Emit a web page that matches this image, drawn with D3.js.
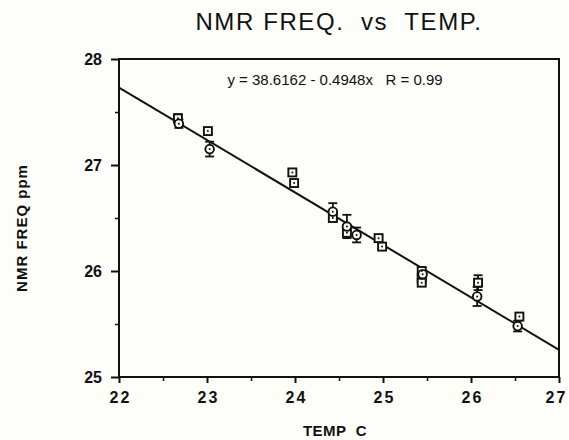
<!DOCTYPE html>
<html>
<head>
<meta charset="utf-8">
<script src="https://cdn.jsdelivr.net/npm/d3@7"></script>
<style>
  body { margin: 0; background: #fdfdfa; }
  svg { display: block; }
  .tick text { font-family: "Liberation Sans", Arial, sans-serif; fill: #111; }
</style>
</head>
<body>
<div id="chart"></div>
<script>
// Data
const xTicks = [22, 23, 24, 25, 26, 27]
const yTicks = [25, 26, 27, 28]

// squares: [temp, freq, error]
const squarePoints = [
  [22.67, 27.44, 0.04], [23.01, 27.32, 0.02], [23.97, 26.93, 0.03],
  [23.99, 26.83, 0.02], [24.43, 26.50, 0.03], [24.59, 26.36, 0.02],
  [24.95, 26.31, 0.02], [24.99, 26.23, 0.02], [25.44, 26.00, 0.03],
  [25.44, 25.93, 0.02], [25.44, 25.89, 0.02], [26.08, 25.89, 0.07],
  [26.55, 25.57, 0.03]
]
// circles: [temp, freq, error]
const circlePoints = [
  [22.68, 27.39, 0.04], [23.03, 27.15, 0.07], [24.43, 26.56, 0.08],
  [24.59, 26.42, 0.11], [24.70, 26.34, 0.07], [25.45, 25.97, 0.03],
  [26.07, 25.76, 0.09], [26.53, 25.48, 0.05]
]

const fit = { a: 38.6162, b: -0.4948 }

const width = 569
const height = 440
const margin = { top: 59, right: 10, bottom: 63, left: 119 }
const ink = "#111"
const paper = "#fdfdfa"

const svg = d3.select("#chart").append("svg")
  .attr("width", width)
  .attr("height", height)

const xScale = d3.scaleLinear().domain([22, 27]).range([margin.left, 559])
const yScale = d3.scaleLinear().domain([25, 28]).range([height - margin.bottom, margin.top])

const x0 = xScale(22), x1 = xScale(27)
const yb = yScale(25), yt = yScale(28)

// title
svg.append("text")
  .attr("x", 339).attr("y", 30)
  .attr("text-anchor", "middle")
  .style("font-family", "Liberation Sans, Arial, sans-serif")
  .style("font-size", "24px")
  .style("letter-spacing", "1.6px")
  .style("white-space", "pre")
  .attr("fill", ink)
  .text("NMR FREQ.  vs  TEMP.")

// frame
svg.append("rect")
  .attr("x", x0).attr("y", yt)
  .attr("width", x1 - x0).attr("height", yb - yt)
  .attr("fill", "none").attr("stroke", ink).attr("stroke-width", 2)

// x axis minor ticks
const xMinor = svg.append("g")
  .attr("transform", `translate(0,${yb})`)
  .call(d3.axisBottom(xScale).tickValues(d3.range(22.5, 27, 1)).tickSize(4).tickFormat(""))
xMinor.select(".domain").remove()
xMinor.selectAll("line").attr("stroke", ink).attr("stroke-width", 1.5)

// x axis major
const xAxis = svg.append("g")
  .attr("transform", `translate(0,${yb})`)
  .call(d3.axisBottom(xScale).tickValues(xTicks).tickSize(6).tickPadding(9).tickFormat(d3.format("d")))
xAxis.select(".domain").remove()
xAxis.selectAll("line").attr("stroke", ink).attr("stroke-width", 2)
xAxis.selectAll("text")
  .style("font-size", "16px").style("font-weight", "bold")
  .style("letter-spacing", "2.2px")
  .attr("dx", d => d === 27 ? "-3px" : "1px")

// y axis minor ticks
const yMinor = svg.append("g")
  .attr("transform", `translate(${x0},0)`)
  .call(d3.axisLeft(yScale).tickValues(d3.range(25.5, 28, 1)).tickSize(4).tickFormat(""))
yMinor.select(".domain").remove()
yMinor.selectAll("line").attr("stroke", ink).attr("stroke-width", 1.5)

// y axis major
const yAxis = svg.append("g")
  .attr("transform", `translate(${x0},0)`)
  .call(d3.axisLeft(yScale).tickValues(yTicks).tickSize(8).tickPadding(9).tickFormat(d3.format("d")))
yAxis.select(".domain").remove()
yAxis.selectAll("line").attr("stroke", ink).attr("stroke-width", 2)
yAxis.selectAll("text").style("font-size", "16px").style("font-weight", "bold")

// axis titles
svg.append("text")
  .attr("x", 335).attr("y", 436)
  .attr("text-anchor", "middle")
  .style("font-family", "Liberation Sans, Arial, sans-serif")
  .style("font-size", "15px").style("font-weight", "bold")
  .style("letter-spacing", "0.5px")
  .style("white-space", "pre")
  .attr("fill", ink)
  .text("TEMP  C")

svg.append("text")
  .attr("transform", "translate(27,228) rotate(-90)")
  .attr("text-anchor", "middle")
  .style("font-family", "Liberation Sans, Arial, sans-serif")
  .style("font-size", "15px").style("font-weight", "bold")
  .style("letter-spacing", "1px")
  .attr("fill", ink)
  .text("NMR FREQ ppm")

// equation
svg.append("text")
  .attr("x", 335).attr("y", 85)
  .attr("text-anchor", "middle")
  .style("font-family", "Liberation Sans, Arial, sans-serif")
  .style("font-size", "15px")
  .style("white-space", "pre")
  .attr("fill", ink)
  .text("y = 38.6162 - 0.4948x   R = 0.99")

// regression line
svg.append("line")
  .attr("x1", xScale(22)).attr("y1", yScale(fit.a + fit.b * 22))
  .attr("x2", xScale(27)).attr("y2", yScale(fit.a + fit.b * 27))
  .attr("stroke", ink).attr("stroke-width", 2)

// error bars
const allPoints = squarePoints.concat(circlePoints)
const bars = svg.append("g")
  .attr("stroke", ink).attr("stroke-width", 1.8)
bars.selectAll(".err")
  .data(allPoints)
  .join("line")
    .attr("x1", d => xScale(d[0])).attr("x2", d => xScale(d[0]))
    .attr("y1", d => yScale(d[1] - d[2])).attr("y2", d => yScale(d[1] + d[2]))
bars.selectAll(".capTop")
  .data(allPoints)
  .join("line")
    .attr("class", "capTop")
    .attr("x1", d => xScale(d[0]) - 4.5).attr("x2", d => xScale(d[0]) + 4.5)
    .attr("y1", d => yScale(d[1] + d[2])).attr("y2", d => yScale(d[1] + d[2]))
bars.selectAll(".capBot")
  .data(allPoints)
  .join("line")
    .attr("class", "capBot")
    .attr("x1", d => xScale(d[0]) - 4.5).attr("x2", d => xScale(d[0]) + 4.5)
    .attr("y1", d => yScale(d[1] - d[2])).attr("y2", d => yScale(d[1] - d[2]))

// square markers
svg.append("g").selectAll("rect")
  .data(squarePoints)
  .join("rect")
    .attr("x", d => xScale(d[0]) - 4)
    .attr("y", d => yScale(d[1]) - 4)
    .attr("width", 8).attr("height", 8)
    .attr("fill", paper).attr("stroke", ink).attr("stroke-width", 1.9)

// circle markers
svg.append("g").selectAll("circle")
  .data(circlePoints)
  .join("circle")
    .attr("cx", d => xScale(d[0]))
    .attr("cy", d => yScale(d[1]))
    .attr("r", 4.3)
    .attr("fill", paper).attr("stroke", ink).attr("stroke-width", 1.9)

// centre dots
svg.append("g").selectAll("circle")
  .data(allPoints)
  .join("circle")
    .attr("cx", d => xScale(d[0]))
    .attr("cy", d => yScale(d[1]))
    .attr("r", 1)
    .attr("fill", ink)
</script>
</body>
</html>
